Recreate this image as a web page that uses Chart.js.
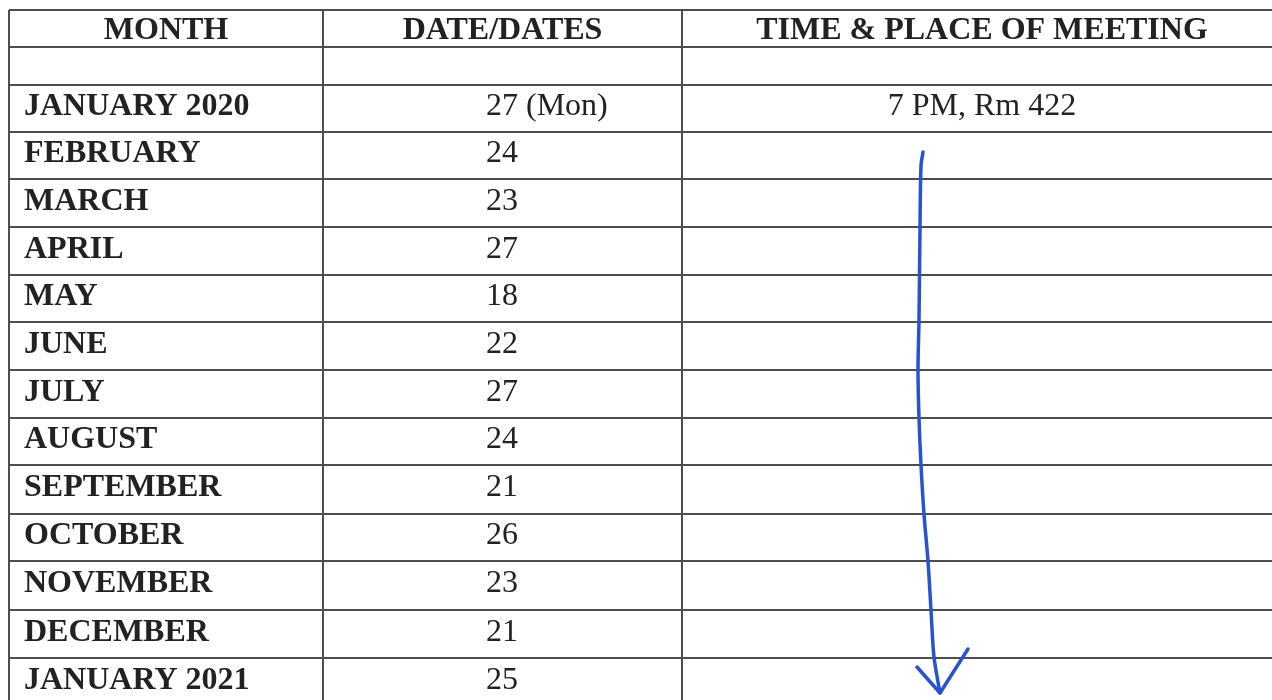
<!DOCTYPE html>
<html>
<head>
<meta charset="utf-8">
<script src="https://cdn.jsdelivr.net/npm/chart.js@4.4.1/dist/chart.umd.min.js"></script>
<style>
  html, body { margin: 0; padding: 0; background: #fff; }
  canvas { display: block; }
</style>
</head>
<body>
<canvas id="sheet" width="1272" height="700"></canvas>
<script>
// table content
const headers = ['MONTH', 'DATE/DATES', 'TIME & PLACE OF MEETING'];
const months = ['', 'JANUARY 2020', 'FEBRUARY', 'MARCH', 'APRIL', 'MAY', 'JUNE', 'JULY',
  'AUGUST', 'SEPTEMBER', 'OCTOBER', 'NOVEMBER', 'DECEMBER', 'JANUARY 2021'];
const dates = ['', '27 (Mon)', '24', '23', '27', '18', '22', '27', '24', '21', '26', '23', '21', '25'];
const places = ['', '7 PM, Rm 422', '', '', '', '', '', '', '', '', '', '', '', ''];

// row / column boundaries (page units)
const rowEdges = [10, 47, 85, 132, 179, 227, 275, 322, 370, 418, 465, 514, 561, 610, 658, 706];
const colEdges = [9, 323, 682, 1282];

// hand drawn arrow down the last column
const arrowShaft = [
  { x: 923, y: 152 }, { x: 921, y: 166 }, { x: 920, y: 228 }, { x: 919, y: 320 },
  { x: 918, y: 370 }, { x: 919, y: 418 }, { x: 921, y: 465 }, { x: 924, y: 514 },
  { x: 928, y: 561 }, { x: 931, y: 610 }, { x: 934, y: 657 }, { x: 940, y: 693 }
];
const arrowHead = [{ x: 917, y: 667 }, { x: 940, y: 693 }, { x: 968, y: 649 }];

const ink = '#222222';
const pen = '#2553d4';

const tableText = {
  id: 'tableText',
  afterDatasetsDraw(chart) {
    const { ctx, scales: { x, y } } = chart;
    ctx.save();
    ctx.fillStyle = ink;
    ctx.textBaseline = 'alphabetic';

    // header row
    ctx.font = 'bold 32px "Liberation Serif", "Times New Roman", serif';
    ctx.textAlign = 'center';
    headers.forEach((h, c) => {
      const cx = (x.getPixelForValue(colEdges[c]) + x.getPixelForValue(colEdges[c + 1])) / 2;
      const cy = (y.getPixelForValue(rowEdges[0]) + y.getPixelForValue(rowEdges[1])) / 2;
      ctx.fillText(h, cx, cy + 10.5);
    });

    months.forEach((m, i) => {
      const top = y.getPixelForValue(rowEdges[i + 1]);
      const bottom = y.getPixelForValue(rowEdges[i + 2]);
      const base = (top + bottom) / 2 + 6.5;

      ctx.font = 'bold 32px "Liberation Serif", "Times New Roman", serif';
      ctx.textAlign = 'left';
      ctx.fillText(m, x.getPixelForValue(colEdges[0]) + 15, base);

      ctx.font = '32px "Liberation Serif", "Times New Roman", serif';
      ctx.fillText(dates[i], x.getPixelForValue(colEdges[1]) + 163, base);

      ctx.textAlign = 'center';
      const cx = (x.getPixelForValue(colEdges[2]) + x.getPixelForValue(colEdges[3])) / 2;
      ctx.fillText(places[i], cx, base);
    });
    ctx.restore();
  }
};

new Chart(document.getElementById('sheet'), {
  type: 'scatter',
  data: {
    datasets: [
      {
        data: arrowShaft,
        showLine: true,
        borderColor: pen,
        borderWidth: 3.5,
        pointRadius: 0,
        tension: 0.3,
        borderCapStyle: 'round'
      },
      {
        data: arrowHead,
        showLine: true,
        borderColor: pen,
        borderWidth: 3.5,
        pointRadius: 0,
        tension: 0,
        borderCapStyle: 'round',
        borderJoinStyle: 'round'
      }
    ]
  },
  options: {
    responsive: false,
    animation: false,
    events: [],
    layout: { padding: { left: 9, top: 10, right: 0, bottom: 0 } },
    plugins: { legend: { display: false }, tooltip: { enabled: false } },
    scales: {
      x: {
        type: 'linear',
        min: 9,
        max: 1272,
        border: { display: false },
        grid: { color: '#4d4d4d', lineWidth: 2, drawTicks: false, tickLength: 0 },
        ticks: { display: false },
        afterBuildTicks: (scale) => {
          scale.ticks = colEdges.filter(v => v < 1272).map(v => ({ value: v }));
        }
      },
      y: {
        type: 'linear',
        reverse: true,
        min: 10,
        max: 700,
        border: { display: false },
        grid: { color: '#4d4d4d', lineWidth: 2, drawTicks: false, tickLength: 0 },
        ticks: { display: false },
        afterBuildTicks: (scale) => {
          scale.ticks = rowEdges.filter(v => v < 700).map(v => ({ value: v }));
        }
      }
    }
  },
  plugins: [tableText]
});
</script>
</body>
</html>
